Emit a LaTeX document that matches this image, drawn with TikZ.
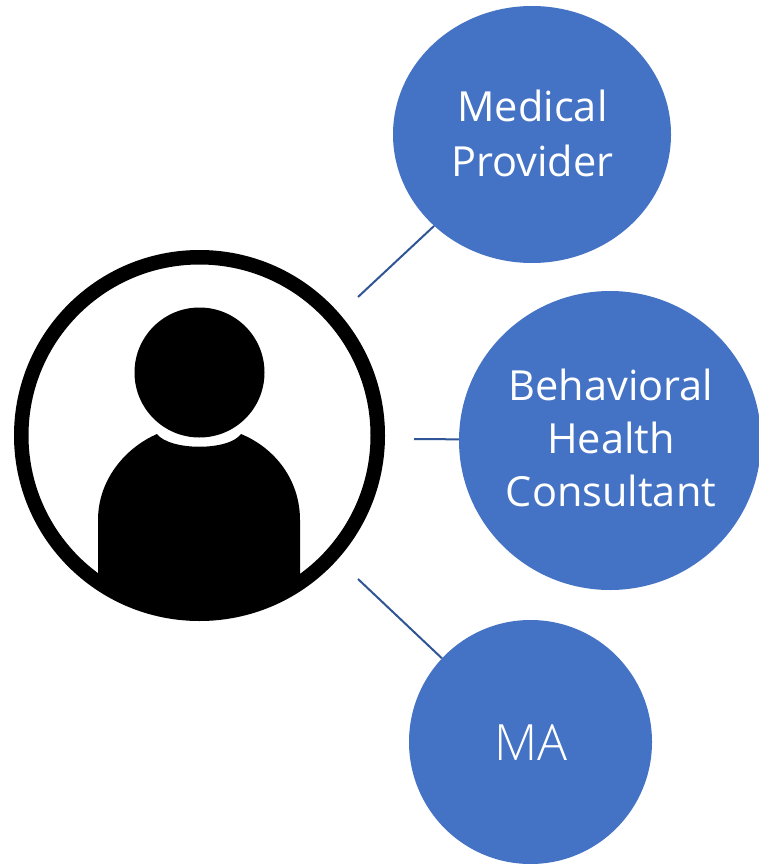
\documentclass[tikz,border=0pt]{standalone}
\usetikzlibrary{shapes.geometric}
\usepackage{fontspec}
\setmainfont{Open Sans}
\newfontfamily\lightfont[UprightFont=* Light]{Open Sans}
\definecolor{bub}{HTML}{4472C4}
\definecolor{lin}{HTML}{2F5597}
\tikzset{
  bubble/.style={ellipse,fill=bub,inner sep=0pt},
  btext/.style={text=white,align=center,font=\fontsize{41.5}{53}\selectfont},
  link/.style={draw=lin,line width=2pt}
}
\begin{document}
\begin{tikzpicture}[x=1pt,y=-1pt]
\useasboundingbox (0,0) rectangle (759,864);
\fill[white] (0,0) rectangle (759,864);
% person icon
\draw[line width=14.5pt,black,fill=white] (199.5,435.5) circle (178.25);
\fill[black] (199.5,372.5) circle (65);
\fill[black] (98,573) -- (98,520) .. controls (98,480) and (125,448) .. (157,434)
  .. controls (170,451) and (229,451) .. (241,434)
  .. controls (275,448) and (300,480) .. (300,520) -- (300,573)
  -- (300,590) -- (250,605) -- (199.5,612) -- (150,605) -- (98,590) -- cycle;
% bubbles
\node[bubble,minimum width=278pt,minimum height=257pt] (mp) at (532,134.5) {};
\node[bubble,minimum width=302pt,minimum height=299pt] (bh) at (610,440.5) {};
\node[bubble,minimum width=243pt,minimum height=244pt] (ma) at (530.5,742) {};
\node[btext,font=\fontsize{41.5}{55}\selectfont] (mpt) at (532.5,133) {Medical\\Provider};
\node[btext] (bht) at (611,438) {Behavioral\\Health\\Consultant};
\node[btext,font=\lightfont\fontsize{50}{53}\selectfont] (mat) at (531,743) {MA};
\coordinate (a1) at (358,297);
\coordinate (a2) at (414,439);
\coordinate (a3) at (358,579);
\path[link] (a1) -- (mp);
\path[link] (a2) -- (bh);
\path[link] (a3) -- (ma);
\end{tikzpicture}
\end{document}
